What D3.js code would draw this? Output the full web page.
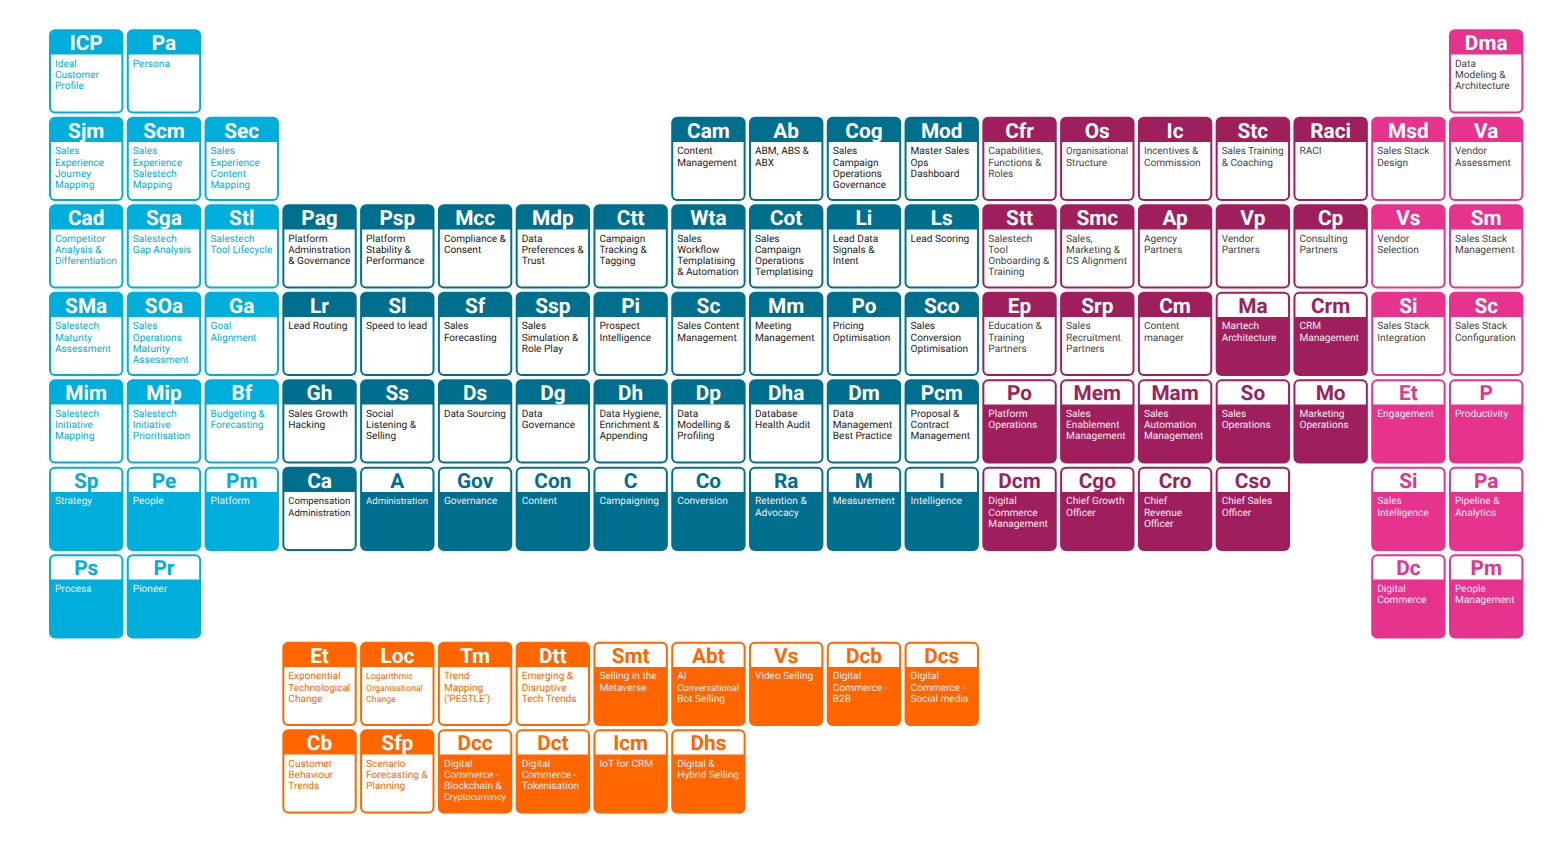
<!DOCTYPE html>
<html>
<head>
<meta charset="utf-8">
<script src="https://cdn.jsdelivr.net/npm/d3@7"></script>
<style>
  html, body { margin: 0; padding: 0; background: #fff; }
  svg { display: block; }
  text { font-family: Roboto, sans-serif; text-rendering: geometricPrecision; }
</style>
</head>
<body>
<div id="chart"></div>
<script>
// [column, row, symbol, name lines, filled body?]
const blueCells = [
    [0, 0, "ICP", ["Ideal", "Customer", "Profile"], false],
    [1, 0, "Pa", ["Persona"], false],
    [0, 1, "Sjm", ["Sales", "Experience", "Journey", "Mapping"], false],
    [1, 1, "Scm", ["Sales", "Experience", "Salestech", "Mapping"], false],
    [2, 1, "Sec", ["Sales", "Experience", "Content", "Mapping"], false],
    [0, 2, "Cad", ["Competitor", "Analysis &", "Differentiation"], false],
    [1, 2, "Sga", ["Salestech", "Gap Analysis"], false],
    [2, 2, "Stl", ["Salestech", "Tool Lifecycle"], false],
    [0, 3, "SMa", ["Salestech", "Maturity", "Assessment"], false],
    [1, 3, "SOa", ["Sales", "Operations", "Maturity", "Assessment"], false],
    [2, 3, "Ga", ["Goal", "Alignment"], false],
    [0, 4, "Mim", ["Salestech", "Initiative", "Mapping"], false],
    [1, 4, "Mip", ["Salestech", "Initiative", "Prioritisation"], false],
    [2, 4, "Bf", ["Budgeting &", "Forecasting"], false],
    [0, 5, "Sp", ["Strategy"], true],
    [1, 5, "Pe", ["People"], true],
    [2, 5, "Pm", ["Platform"], true],
    [0, 6, "Ps", ["Process"], true],
    [1, 6, "Pr", ["Pioneer"], true]
];

const tealCells = [
    [8, 1, "Cam", ["Content", "Management"], false],
    [9, 1, "Ab", ["ABM, ABS &", "ABX"], false],
    [10, 1, "Cog", ["Sales", "Campaign", "Operations", "Governance"], false],
    [11, 1, "Mod", ["Master Sales", "Ops", "Dashboard"], false],
    [3, 2, "Pag", ["Platform", "Adminstration", "& Governance"], false],
    [4, 2, "Psp", ["Platform", "Stability &", "Performance"], false],
    [5, 2, "Mcc", ["Compliance &", "Consent"], false],
    [6, 2, "Mdp", ["Data", "Preferences &", "Trust"], false],
    [7, 2, "Ctt", ["Campaign", "Tracking &", "Tagging"], false],
    [8, 2, "Wta", ["Sales", "Workflow", "Templatising", "& Automation"], false],
    [9, 2, "Cot", ["Sales", "Campaign", "Operations", "Templatising"], false],
    [10, 2, "Li", ["Lead Data", "Signals &", "Intent"], false],
    [11, 2, "Ls", ["Lead Scoring"], false],
    [3, 3, "Lr", ["Lead Routing"], false],
    [4, 3, "Sl", ["Speed to lead"], false],
    [5, 3, "Sf", ["Sales", "Forecasting"], false],
    [6, 3, "Ssp", ["Sales", "Simulation &", "Role Play"], false],
    [7, 3, "Pi", ["Prospect", "Intelligence"], false],
    [8, 3, "Sc", ["Sales Content", "Management"], false],
    [9, 3, "Mm", ["Meeting", "Management"], false],
    [10, 3, "Po", ["Pricing", "Optimisation"], false],
    [11, 3, "Sco", ["Sales", "Conversion", "Optimisation"], false],
    [3, 4, "Gh", ["Sales Growth", "Hacking"], false],
    [4, 4, "Ss", ["Social", "Listening &", "Selling"], false],
    [5, 4, "Ds", ["Data Sourcing"], false],
    [6, 4, "Dg", ["Data", "Governance"], false],
    [7, 4, "Dh", ["Data Hygiene,", "Enrichment &", "Appending"], false],
    [8, 4, "Dp", ["Data", "Modelling &", "Profiling"], false],
    [9, 4, "Dha", ["Database", "Health Audit"], false],
    [10, 4, "Dm", ["Data", "Management", "Best Practice"], false],
    [11, 4, "Pcm", ["Proposal &", "Contract", "Management"], false],
    [3, 5, "Ca", ["Compensation", "Administration"], false],
    [4, 5, "A", ["Administration"], true],
    [5, 5, "Gov", ["Governance"], true],
    [6, 5, "Con", ["Content"], true],
    [7, 5, "C", ["Campaigning"], true],
    [8, 5, "Co", ["Conversion"], true],
    [9, 5, "Ra", ["Retention &", "Advocacy"], true],
    [10, 5, "M", ["Measurement"], true],
    [11, 5, "I", ["Intelligence"], true]
];

const purpleCells = [
    [12, 1, "Cfr", ["Capabilities,", "Functions &", "Roles"], false],
    [13, 1, "Os", ["Organisational", "Structure"], false],
    [14, 1, "Ic", ["Incentives &", "Commission"], false],
    [15, 1, "Stc", ["Sales Training", "& Coaching"], false],
    [16, 1, "Raci", ["RACI"], false],
    [12, 2, "Stt", ["Salestech", "Tool", "Onboarding &", "Training"], false],
    [13, 2, "Smc", ["Sales,", "Marketing &", "CS Alignment"], false],
    [14, 2, "Ap", ["Agency", "Partners"], false],
    [15, 2, "Vp", ["Vendor", "Partners"], false],
    [16, 2, "Cp", ["Consulting", "Partners"], false],
    [12, 3, "Ep", ["Education &", "Training", "Partners"], false],
    [13, 3, "Srp", ["Sales", "Recruitment", "Partners"], false],
    [14, 3, "Cm", ["Content", "manager"], false],
    [15, 3, "Ma", ["Martech", "Architecture"], true],
    [16, 3, "Crm", ["CRM", "Management"], true],
    [12, 4, "Po", ["Platform", "Operations"], true],
    [13, 4, "Mem", ["Sales", "Enablement", "Management"], true],
    [14, 4, "Mam", ["Sales", "Automation", "Management"], true],
    [15, 4, "So", ["Sales", "Operations"], true],
    [16, 4, "Mo", ["Marketing", "Operations"], true],
    [12, 5, "Dcm", ["Digital", "Commerce", "Management"], true],
    [13, 5, "Cgo", ["Chief Growth", "Officer"], true],
    [14, 5, "Cro", ["Chief", "Revenue", "Officer"], true],
    [15, 5, "Cso", ["Chief Sales", "Officer"], true]
];

const pinkCells = [
    [18, 0, "Dma", ["Data", "Modeling &", "Architecture"], false],
    [17, 1, "Msd", ["Sales Stack", "Design"], false],
    [18, 1, "Va", ["Vendor", "Assessment"], false],
    [17, 2, "Vs", ["Vendor", "Selection"], false],
    [18, 2, "Sm", ["Sales Stack", "Management"], false],
    [17, 3, "Si", ["Sales Stack", "Integration"], false],
    [18, 3, "Sc", ["Sales Stack", "Configuration"], false],
    [17, 4, "Et", ["Engagement"], true],
    [18, 4, "P", ["Productivity"], true],
    [17, 5, "Si", ["Sales", "Intelligence"], true],
    [18, 5, "Pa", ["Pipeline &", "Analytics"], true],
    [17, 6, "Dc", ["Digital", "Commerce"], true],
    [18, 6, "Pm", ["People", "Management"], true]
];

const orangeCells = [
    [3, 7, "Et", ["Exponential", "Technological", "Change"], false],
    [4, 7, "Loc", ["Logarithmic", "Organisational", "Change"], false],
    [5, 7, "Tm", ["Trend", "Mapping", "(‘PESTLE’)"], false],
    [6, 7, "Dtt", ["Emerging &", "Disruptive", "Tech Trends"], false],
    [7, 7, "Smt", ["Selling in the", "Metaverse"], true],
    [8, 7, "Abt", ["AI", "Conversational", "Bot Selling"], true],
    [9, 7, "Vs", ["Video Selling"], true],
    [10, 7, "Dcb", ["Digital", "Commerce -", "B2B"], true],
    [11, 7, "Dcs", ["Digital", "Commerce -", "Social media"], true],
    [3, 8, "Cb", ["Customer", "Behaviour", "Trends"], false],
    [4, 8, "Sfp", ["Scenario", "Forecasting &", "Planning"], false],
    [5, 8, "Dcc", ["Digital", "Commerce -", "Blockchain &", "Cryptocurrency"], true],
    [6, 8, "Dct", ["Digital", "Commerce -", "Tokenisation"], true],
    [7, 8, "Icm", ["IoT for CRM"], true],
    [8, 8, "Dhs", ["Digital &", "Hybrid Selling"], true]
];

const families = [
    { cells: blueCells, color: "#00aedb", ink: "#00aedb" },
    { cells: tealCells, color: "#006f8e", ink: "#1c1c1c" },
    { cells: purpleCells, color: "#9e1f5c", ink: "#444444" },
    { cells: pinkCells, color: "#e5338e", ink: "#444444" },
    { cells: orangeCells, color: "#ff6600", ink: "#ff6600" }
];

const width = 1554, height = 852;
const cellW = 74.4, cellH = 84.2, headH = 25.2, border = 2, radius = 6;
const maxLine = 62; // long name lines are squeezed to this width

const x = d3.scaleLinear().domain([0, 18]).range([49, 1449]);
const y = d3.scaleLinear().domain([0, 8]).range([29.2, 729.2]);

const svg = d3.select("#chart")
    .append("svg")
    .attr("width", width)
    .attr("height", height);

// inner white panel: square at the header line, rounded against the border
function panelPath(w, top, bottom, solid) {
    const l = border, r = w - border, q = radius - border;
    const p = d3.path();
    if (solid) {
        p.moveTo(l, bottom);
        p.lineTo(l, top + q);
        p.arcTo(l, top, l + q, top, q);
        p.lineTo(r - q, top);
        p.arcTo(r, top, r, top + q, q);
        p.lineTo(r, bottom);
    } else {
        p.moveTo(l, top);
        p.lineTo(r, top);
        p.lineTo(r, bottom - q);
        p.arcTo(r, bottom, r - q, bottom, q);
        p.lineTo(l + q, bottom);
        p.arcTo(l, bottom, l, bottom - q, q);
    }
    p.closePath();
    return p.toString();
}

families.forEach(family => {
    const cell = svg.append("g")
        .selectAll("g")
        .data(family.cells)
        .enter()
        .append("g")
        .attr("transform", d => `translate(${x(d[0])}, ${y(d[1])})`);

    cell.append("rect")
        .attr("width", cellW)
        .attr("height", cellH)
        .attr("rx", radius)
        .attr("fill", family.color);

    cell.append("path")
        .attr("d", d => d[4]
            ? panelPath(cellW, border, headH, true)
            : panelPath(cellW, headH, cellH - border, false))
        .attr("fill", "#fff");

    // Symbol
    cell.append("text")
        .attr("x", cellW / 2)
        .attr("y", 21.3)
        .attr("text-anchor", "middle")
        .attr("font-size", 20.8)
        .attr("font-weight", 700)
        .attr("fill", d => d[4] ? family.color : "#fff")
        .text(d => d[2]);

    // Name lines
    cell.append("text")
        .attr("font-size", d => d[2] === "Loc" ? 8.8 : 10.1)
        .attr("fill", d => d[4] ? "#fbe9f0" : family.ink)
        .selectAll("tspan")
        .data(d => d[3])
        .enter()
        .append("tspan")
        .attr("x", 6)
        .attr("y", (d, i) => 37.8 + i * 11.15)
        .text(d => d)
        .each(function () {
            const len = this.getComputedTextLength();
            if (len > maxLine) d3.select(this).attr("font-size", 10.1 * maxLine / len);
        });
});
</script>
</body>
</html>
